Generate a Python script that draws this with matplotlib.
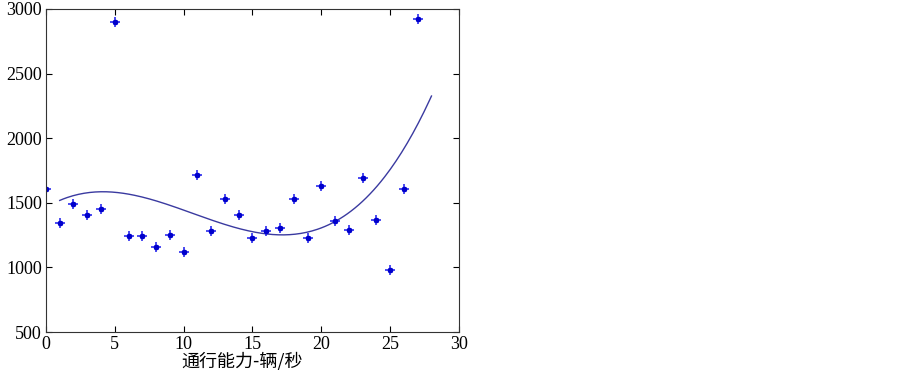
import numpy as np
import matplotlib
matplotlib.use('Agg')
import matplotlib.pyplot as plt

x_obs = np.arange(0, 28)
y_obs = [1610, 1340, 1490, 1405, 1452, 2900, 1245, 1245, 1158, 1250,
         1120, 1715, 1282, 1528, 1405, 1225, 1282, 1305, 1528, 1225,
         1630, 1360, 1290, 1692, 1367, 980, 1607, 2923]

x_ticks = [0, 5, 10, 15, 20, 25, 30]
y_ticks = [500, 1000, 1500, 2000, 2500, 3000]

# 三次多项式拟合
coef = np.polyfit(x_obs, y_obs, 3)
x_fit = np.linspace(1, 28, 200)
y_fit = np.polyval(coef, x_fit)

fig = plt.figure(figsize=(9.03, 3.70), dpi=100)
ax = fig.add_axes([0.0509, 0.1027, 0.4574, 0.873])

ax.plot(x_fit, y_fit, color='#3a3aa0', lw=1.0)
ax.plot(x_obs, y_obs, linestyle='none', marker='+', ms=7, mew=1.1, color='#1a1aee')
ax.plot(x_obs, y_obs, linestyle='none', marker='x', ms=3.5, mew=0.8, color='#1a1aee')
ax.plot(x_obs, y_obs, linestyle='none', marker='o', ms=3.0, color='#0000cc')

ax.set_xlim(0, 30)
ax.set_ylim(500, 3000)
ax.set_xticks(x_ticks)
ax.set_yticks(y_ticks)
ax.tick_params(direction='in', top=True, right=True, length=4, width=0.8, pad=3,
               labelsize=13)
for lab in ax.get_xticklabels() + ax.get_yticklabels():
    lab.set_family('Liberation Serif')
for s in ax.spines.values():
    s.set_linewidth(0.8)
    s.set_color('#333333')

ax.set_xlabel('通行能力-辆/秒', family=['Noto Sans CJK SC', 'DejaVu Sans'], fontsize=13, va='top')
ax.xaxis.set_label_coords(0.475, -0.062)

fig.savefig('out.png', dpi=100)
